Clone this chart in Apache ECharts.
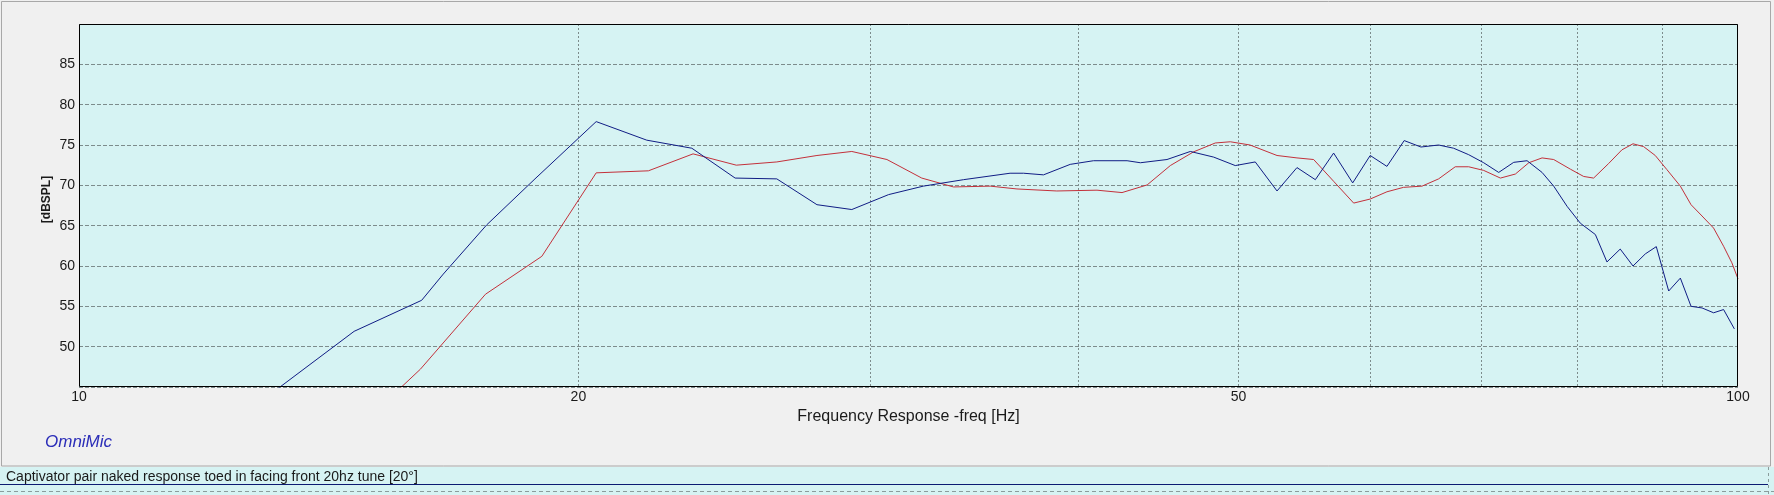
<!DOCTYPE html>
<html>
<head>
<meta charset="utf-8">
<script src="https://cdn.jsdelivr.net/npm/echarts@6/dist/echarts.min.js"></script>
<style>
  html, body { margin: 0; padding: 0; background: #f0f0f0; }
  #chart { width: 1774px; height: 495px; }
</style>
</head>
<body>
<div id="chart"></div>
<script>
// ---- data (frequency in Hz, level in dBSPL) ----
const blueFreq = [13.1, 14.65, 16.09, 16.58, 17.61, 18.83, 20.5, 21.99, 23.41, 24.86, 26.34, 27.85, 29.23, 30.76, 32.28, 34.13, 36.41, 37.1, 38.14, 39.58, 40.88, 42.83, 43.63, 45.27, 46.76, 48.3, 49.77, 51.17, 52.74, 54.22, 55.62, 57.05, 58.58, 60.02, 61.43, 62.92, 64.4, 66.0, 67.39, 68.81, 70.26, 71.74, 73.25, 74.62, 76.19, 77.43, 78.88, 80.35, 82.04, 83.37, 84.92, 86.44, 87.93, 89.28, 90.83, 92.31, 93.69, 95.13, 96.67, 98.02, 99.5];
const blueDb = [44.4, 51.9, 55.75, 59.0, 65.1, 70.8, 77.9, 75.6, 74.6, 70.9, 70.8, 67.6, 67.0, 68.85, 69.9, 70.7, 71.5, 71.5, 71.3, 72.6, 73.05, 73.05, 72.8, 73.2, 74.2, 73.5, 72.45, 72.9, 69.3, 72.2, 70.7, 74.0, 70.3, 73.7, 72.35, 75.55, 74.75, 75.0, 74.6, 73.8, 72.8, 71.6, 72.85, 73.05, 71.6, 69.9, 67.4, 65.3, 63.9, 60.5, 62.1, 60.0, 61.5, 62.4, 56.9, 58.5, 55.0, 54.8, 54.2, 54.6, 52.2];

const redFreq = [15.57, 16.06, 17.58, 19.01, 20.5, 22.04, 23.45, 24.9, 26.34, 27.85, 29.23, 30.69, 32.21, 33.66, 35.42, 36.76, 38.85, 41.08, 42.53, 44.04, 45.48, 46.97, 48.41, 49.43, 50.8, 52.74, 54.22, 55.49, 57.05, 58.66, 60.02, 61.43, 62.86, 64.5, 66.0, 67.54, 68.81, 70.26, 71.91, 73.42, 74.8, 76.19, 77.43, 79.25, 80.72, 81.84, 83.56, 85.12, 86.44, 87.72, 89.15, 90.6, 92.31, 93.69, 95.13, 96.67, 98.02, 99.15, 100];
const redDb = [44.6, 47.2, 56.5, 61.2, 71.55, 71.8, 73.9, 72.5, 72.9, 73.7, 74.2, 73.2, 70.9, 69.8, 69.9, 69.55, 69.3, 69.4, 69.1, 70.05, 72.45, 74.15, 75.25, 75.4, 75.0, 73.7, 73.4, 73.2, 70.5, 67.8, 68.3, 69.2, 69.75, 69.9, 70.8, 72.3, 72.3, 71.85, 70.9, 71.4, 72.8, 73.4, 73.2, 72.0, 71.1, 70.9, 72.7, 74.4, 75.15, 74.8, 73.7, 71.95, 69.9, 67.6, 66.2, 64.7, 62.45, 60.4, 58.4];

const xGridFreqs = [20, 30, 40, 50, 60, 70, 80, 90];
const xLabelFreqs = [10, 20, 50, 100];
const xMin = 10, xMax = 100;
const yMin = 45, yMax = 90, yStep = 5;

const xTitle = 'Frequency Response -freq [Hz]';
const yTitle = '[dBSPL]';
const brand = 'OmniMic';
const caption = 'Captivator pair naked response toed in facing front 20hz tune [20\u00b0]';

// ---- chart ----
const FONT = '"Liberation Sans", Arial, sans-serif';
const G = { left: 79, top: 24, right: 36, bottom: 108 };
const W = 1774, H = 495;

const chart = echarts.init(document.getElementById('chart'), null, { renderer: 'canvas' });

const zip = (xs, ys) => xs.map((x, i) => [x, ys[i]]);

chart.setOption({
  animation: false,
  backgroundColor: '#f0f0f0',
  textStyle: { fontFamily: FONT },
  grid: {
    left: G.left, top: G.top, right: G.right, bottom: G.bottom,
    show: true, backgroundColor: '#d6f3f3', borderWidth: 0,
    containLabel: false
  },
  xAxis: {
    type: 'log', logBase: 10, min: xMin, max: xMax,
    axisLine: { show: false },
    axisTick: { show: false, customValues: xGridFreqs },
    splitLine: { show: true, lineStyle: { color: '#7d8c8c', width: 1, type: [2, 2] } },
    minorTick: { show: false }, minorSplitLine: { show: false },
    axisLabel: { customValues: xLabelFreqs, fontSize: 14, color: '#1a1a1a', margin: 3, fontFamily: FONT,
                 formatter: v => String(Math.round(v)) },
    name: xTitle, nameLocation: 'middle', nameGap: 20,
    nameTextStyle: { fontSize: 16, color: '#1a1a1a', fontFamily: FONT }
  },
  yAxis: {
    type: 'value', min: yMin, max: yMax, interval: yStep,
    axisLine: { show: false }, axisTick: { show: false },
    splitLine: { show: true, lineStyle: { color: '#7d8c8c', width: 1, type: [4, 2] } },
    axisLabel: { fontSize: 14, color: '#1a1a1a', margin: 4, showMinLabel: false, showMaxLabel: false, fontFamily: FONT },
    name: yTitle, nameLocation: 'middle', nameGap: 26, nameRotate: 90, nameMoveOverlap: false,
    nameTextStyle: { fontSize: 12, fontWeight: 'bold', color: '#1a1a1a', fontFamily: FONT, padding: [0, 0, 0, 12] }
  },
  series: [
    {
      type: 'line', name: 'red', data: zip(redFreq, redDb), showSymbol: false, symbol: 'none',
      clip: true, lineStyle: { color: '#c3303a', width: 1 }, z: 3
    },
    {
      type: 'line', name: 'blue', data: zip(blueFreq, blueDb), showSymbol: false, symbol: 'none',
      clip: true, lineStyle: { color: '#101c84', width: 1 }, z: 4
    }
  ],
  graphic: [
    { type: 'rect', z: 50, silent: true,
      shape: { x: G.left + 0.5, y: G.top + 0.5, width: W - G.left - G.right - 1, height: H - G.top - G.bottom - 1 },
      style: { fill: null, stroke: '#000', lineWidth: 1 } },
    { type: 'rect', z: 1, silent: true,
      shape: { x: 1.5, y: 1.5, width: 1769, height: 464.5 },
      style: { fill: null, stroke: '#a8a8a8', lineWidth: 1 } },
    { type: 'rect', z: 1, silent: true,
      shape: { x: 0, y: 467, width: W, height: 28 },
      style: { fill: '#d6f3f3' } },
    { type: 'text', z: 2, silent: true, x: 6, y: 477,
      style: { text: caption, font: '14px ' + FONT, fill: '#1a1a1a', verticalAlign: 'middle' } },
    { type: 'line', z: 2, silent: true, shape: { x1: 0, y1: 484.5, x2: 1768, y2: 484.5 },
      style: { stroke: '#0c1a72', lineWidth: 1 } },
    { type: 'line', z: 2, silent: true, shape: { x1: 0, y1: 491.5, x2: W, y2: 491.5 },
      style: { stroke: '#8a9c9c', lineWidth: 1, lineDash: [4, 3] } },
    { type: 'line', z: 2, silent: true, shape: { x1: 1768.5, y1: 467, x2: 1768.5, y2: H },
      style: { stroke: '#8a9c9c', lineWidth: 1, lineDash: [3, 3] } },
    { type: 'text', z: 2, silent: true, x: 45, y: 442,
      style: { text: brand, font: 'italic 17px ' + FONT, fill: '#2b2db8', verticalAlign: 'middle' } }
  ]
});
</script>
</body>
</html>
